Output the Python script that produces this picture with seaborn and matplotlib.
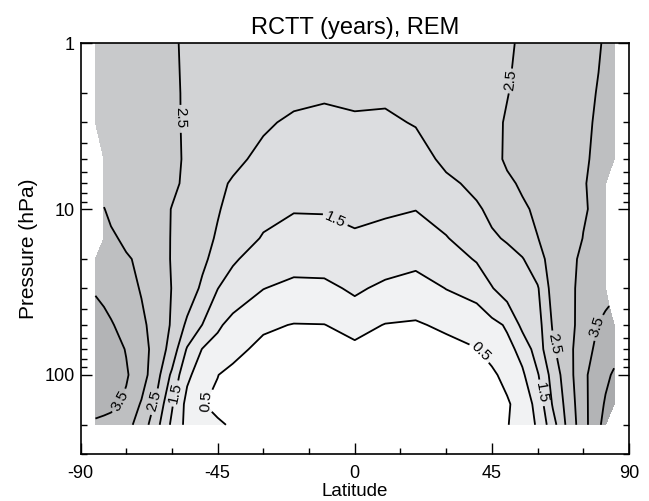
import numpy as np
import matplotlib
matplotlib.use("Agg")
import matplotlib.pyplot as plt
import matplotlib.ticker as mticker
import seaborn as sns

nan = np.nan

# Latitude grid (deg) and pressure levels (hPa)
lat = [-85.1, -82.3, -80, -75, -70, -65, -60, -55, -50, -45, -40, -30, -20, -10, 0,
       10, 20, 30, 40, 45, 50, 55, 60, 65, 70, 75, 80, 82.3, 85.1]
pressure = [1, 2, 3, 5, 7, 10, 15, 20, 30, 50, 70, 100, 150, 200]

# RCTT (years), one row per pressure level
rctt_p1 = [2.90, 2.88, 2.85, 2.80, 2.72, 2.64, 2.54, 2.45, 2.40, 2.36, 2.33, 2.30, 2.28, 2.27, 2.26,
           2.27, 2.29, 2.32, 2.36, 2.40, 2.46, 2.54, 2.64, 2.74, 2.82, 2.90, 2.98, 3.03, 3.08]
rctt_p2 = [2.88, 2.86, 2.83, 2.78, 2.70, 2.62, 2.55, 2.46, 2.38, 2.30, 2.24, 2.15, 2.08, 2.04, 2.04,
           2.045, 2.08, 2.18, 2.30, 2.38, 2.49, 2.58, 2.66, 2.74, 2.82, 2.91, 3.02, 3.06, 3.10]
rctt_p3 = [2.87, 2.85, 2.82, 2.77, 2.70, 2.62, 2.54, 2.47, 2.38, 2.28, 2.20, 2.05, 1.94, 1.91, 1.97,
           1.95, 2.02, 2.14, 2.32, 2.42, 2.53, 2.62, 2.70, 2.78, 2.86, 2.94, 3.04, 3.08, 3.12]
rctt_p5 = [nan, 2.88, 2.85, 2.78, 2.70, 2.62, 2.55, 2.47, 2.36, 2.24, 2.10, 1.89, 1.77, 1.75, 1.80,
           1.77, 1.83, 2.09, 2.22, 2.37, 2.56, 2.68, 2.76, 2.82, 2.88, 2.96, 3.06, 3.10, 3.14]
rctt_p7 = [nan, 2.90, 2.86, 2.79, 2.70, 2.62, 2.55, 2.45, 2.28, 2.10, 1.95, 1.76, 1.65, 1.645, 1.70,
           1.67, 1.67, 1.91, 2.10, 2.25, 2.42, 2.56, 2.68, 2.78, 2.86, 2.98, 3.08, 3.12, nan]
rctt_p10 = [nan, 3.01, 2.93, 2.82, 2.72, 2.62, 2.49, 2.38, 2.22, 2.03, 1.88, 1.63, 1.526, 1.53, 1.59,
            1.555, 1.51, 1.70, 1.94, 2.10, 2.27, 2.43, 2.58, 2.72, 2.83, 2.97, 3.07, 3.12, nan]
rctt_p15 = [nan, 3.10, 3.06, 2.93, 2.80, 2.66, 2.48, 2.33, 2.15, 1.95, 1.78, 1.46, 1.31, 1.33, 1.443,
            1.36, 1.27, 1.47, 1.80, 1.93, 2.05, 2.25, 2.49, 2.68, 2.82, 3.01, 3.10, 3.14, nan]
rctt_p20 = [3.18, 3.14, 3.10, 3.04, 2.93, 2.72, 2.47, 2.28, 2.08, 1.86, 1.56, 1.27, 1.15, 1.16, 1.29,
            1.18, 1.10, 1.27, 1.54, 1.70, 1.82, 1.97, 2.30, 2.72, 2.90, 3.07, 3.16, 3.20, nan]
rctt_p30 = [3.45, 3.38, 3.30, 3.15, 2.97, 2.72, 2.49, 2.25, 1.92, 1.51, 1.27, 1.01, 0.89, 0.90, 1.07,
            0.91, 0.82, 1.01, 1.15, 1.48, 1.70, 1.86, 1.95, 2.70, 2.93, 3.08, 3.22, 3.28, nan]
rctt_p50 = [3.75, 3.65, 3.55, 3.30, 3.10, 2.80, 2.45, 1.90, 1.49, 1.08, 0.84, 0.58, 0.48, 0.49, 0.67,
            0.48, 0.44, 0.60, 0.72, 0.85, 1.06, 1.62, 1.80, 2.55, 2.85, 3.18, 3.53, 3.68, 3.80]
rctt_p70 = [3.85, 3.75, 3.67, 3.48, 3.18, 2.82, 2.30, 1.45, 0.98, 0.80, 0.65, 0.36, 0.23, 0.22, 0.38,
            0.23, 0.19, 0.30, 0.48, 0.62, 0.85, 1.15, 1.75, 2.42, 2.85, 3.30, 3.62, 3.75, 3.88]
rctt_p100 = [3.95, 3.85, 3.77, 3.55, 3.22, 2.68, 1.90, 1.08, 0.80, 0.51, 0.36, 0.22, 0.15, 0.15, 0.18,
             0.15, 0.14, 0.20, 0.32, 0.43, 0.62, 0.92, 1.45, 2.20, 2.80, 3.38, 3.80, 3.92, 4.05]
rctt_p150 = [3.70, 3.66, 3.62, 3.40, 2.95, 2.38, 1.55, 0.85, 0.52, 0.40, 0.30, 0.18, 0.12, 0.10, 0.10,
             0.10, 0.10, 0.14, 0.25, 0.32, 0.44, 0.72, 1.15, 2.05, 2.70, 3.35, 3.85, 4.05, 4.15]
rctt_p200 = [3.40, 3.35, 3.30, 3.15, 2.80, 2.15, 1.40, 0.85, 0.64, 0.56, 0.45, 0.30, 0.20, 0.15, 0.12,
             0.12, 0.14, 0.20, 0.30, 0.36, 0.47, 0.75, 1.05, 1.80, 2.65, 3.30, 3.95, 4.10, nan]

fill_levels = [0.5, 1.0, 1.5, 2.0, 2.5, 3.0, 3.5, 4.0, 5.0]
shades = ['#f1f2f3', '#e6e7e9', '#dcdde0', '#d2d3d5', '#c8c9cb', '#bebfc1', '#b3b4b6', '#a9aaac']
plain_levels = [1.0, 2.0, 3.0, 4.0]
labelled_levels = [0.5, 1.5, 2.5, 3.5]
# where the in-line labels sit (lat, hPa)
label_spots = [(-57, 2.8), (50.6, 1.66), (-6.7, 11.9), (40.6, 74), (65.3, 65), (61, 128),
               (79, 51), (-76, 146), (-67.8, 140), (-59.7, 128), (-48.2, 145)]
x_major = [-90, -45, 0, 45, 90]
x_minor = [-75, -60, -30, -15, 15, 30, 60, 75]
y_major = [1, 10, 100]
y_major_labels = ['1', '10', '100']

sns.set_theme(style="white")
plt.rcParams['font.family'] = ['Liberation Sans', 'DejaVu Sans']
plt.rcParams['axes.axisbelow'] = False

Z = np.ma.masked_invalid(np.array([rctt_p1, rctt_p2, rctt_p3, rctt_p5, rctt_p7, rctt_p10, rctt_p15,
                                   rctt_p20, rctt_p30, rctt_p50, rctt_p70, rctt_p100, rctt_p150,
                                   rctt_p200]))

fig = plt.figure(figsize=(6.49, 5.01), dpi=100)
ax = fig.add_axes([80.5 / 649, 47 / 501, 548.5 / 649, 410.7 / 501])
ax.set_facecolor('white')

ax.set_yscale('log')
ax.set_ylim(300, 1)
ax.set_xlim(-90, 90)

ax.contourf(lat, pressure, Z, levels=fill_levels, colors=shades, corner_mask=True)
ax.contour(lat, pressure, Z, levels=plain_levels, colors='black', linewidths=1.3,
           corner_mask=True)
cs = ax.contour(lat, pressure, Z, levels=labelled_levels, colors='black', linewidths=1.3,
                corner_mask=True)
ax.clabel(cs, manual=label_spots, fmt='%.1f', fontsize=11, inline=True, inline_spacing=3)

ax.set_xticks(x_major)
ax.set_xticklabels([str(v) for v in x_major])
ax.set_xticks(x_minor, minor=True)
ax.set_yticks(y_major)
ax.set_yticklabels(y_major_labels)
ax.yaxis.set_minor_locator(mticker.LogLocator(base=10, subs=range(2, 10), numticks=20))
ax.yaxis.set_minor_formatter(mticker.NullFormatter())

ax.tick_params(axis='x', which='both', direction='in', bottom=True, top=False,
               colors='black', labelsize=13, pad=8, width=1)
ax.tick_params(axis='x', which='major', length=8)
ax.tick_params(axis='x', which='minor', length=4)
ax.tick_params(axis='y', which='both', direction='in', left=True, right=True,
               colors='black', labelsize=13, pad=4, width=1)
ax.tick_params(axis='y', which='major', length=8)
ax.tick_params(axis='y', which='minor', length=4)

for s in ax.spines.values():
    s.set_color('black')
    s.set_linewidth(1.2)

ax.set_title("RCTT (years), REM", fontsize=17, pad=7, color='black')
ax.set_xlabel("Latitude", fontsize=13.5, labelpad=1, color='black')
ax.set_ylabel("Pressure (hPa)", fontsize=15, labelpad=5, color='black')

fig.savefig('out.png', dpi=100)
